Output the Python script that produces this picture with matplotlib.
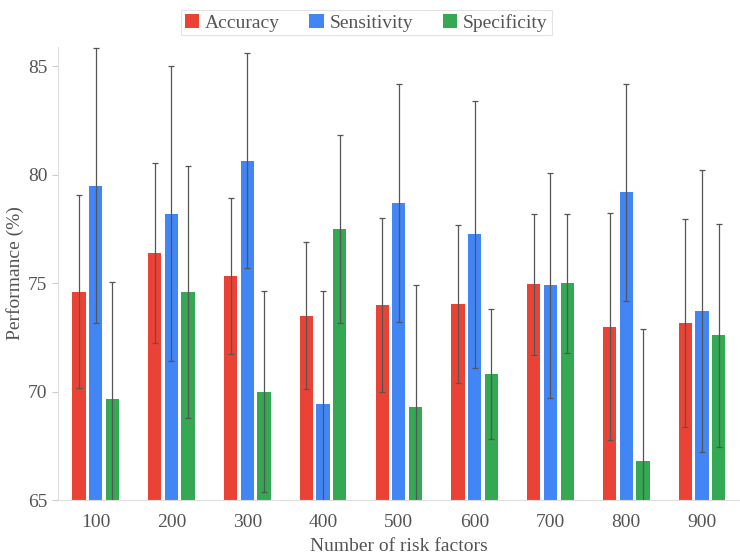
import numpy as np
import matplotlib.pyplot as plt

plt.rcParams['font.family'] = ['Liberation Serif', 'DejaVu Serif']

factors = ["100", "200", "300", "400", "500", "600", "700", "800", "900"]
accuracy = [74.6, 76.4, 75.35, 73.5, 74.0, 74.05, 74.95, 73.0, 73.15]
accuracy_err = [4.45, 4.15, 3.6, 3.4, 4.0, 3.65, 3.25, 5.25, 4.8]
sensitivity = [79.5, 78.2, 80.65, 69.45, 78.7, 77.25, 74.9, 79.2, 73.7]
sensitivity_err = [6.35, 6.8, 4.95, 5.2, 5.5, 6.15, 5.2, 5.0, 6.5]
specificity = [69.65, 74.6, 70.0, 77.5, 69.3, 70.8, 75.0, 66.8, 72.6]
specificity_err = [5.4, 5.8, 4.65, 4.35, 5.6, 3.0, 3.2, 6.1, 5.15]

series = [("Accuracy", accuracy, accuracy_err, "#EA4335"),
          ("Sensitivity", sensitivity, sensitivity_err, "#4285F4"),
          ("Specificity", specificity, specificity_err, "#34A853")]

fig = plt.figure(figsize=(7.4, 5.56), dpi=100)
ax = fig.add_axes([0.078, 0.1007, 0.922, 0.815])

x = np.arange(len(factors))
width = 0.175
step = 0.22
for i, (name, vals, errs, col) in enumerate(series):
    ax.bar(x + (i - 1) * step, vals, width, color=col, label=name,
           yerr=errs, error_kw=dict(ecolor="#555555", elinewidth=0.9,
                                    capsize=2.5, capthick=0.9))

ax.set_xlim(-0.5, len(factors) - 0.5)
ax.set_ylim(65, 85.9)
ax.set_yticks([65, 70, 75, 80, 85])
ax.set_xticks(x)
ax.set_xticklabels(factors)
ax.tick_params(axis='both', labelsize=14, colors="#cccccc")
ax.tick_params(axis='x', length=0, pad=10)
ax.tick_params(axis='y', length=4)
for lbl in ax.get_xticklabels() + ax.get_yticklabels():
    lbl.set_color("#555555")
for s in ["top", "right"]:
    ax.spines[s].set_visible(False)
for s in ["left", "bottom"]:
    ax.spines[s].set_color("#dddddd")

ax.set_xlabel("Number of risk factors", fontsize=14, color="#555555", labelpad=5)
ax.set_ylabel("Performance (%)", fontsize=14, color="#555555", labelpad=3)

leg = fig.legend(loc="upper center", bbox_to_anchor=(0.495, 1.0), ncol=3,
                 fontsize=14, frameon=True, fancybox=False, handlelength=0.75,
                 handleheight=0.75, handletextpad=0.3, columnspacing=1.5,
                 borderpad=0.2, labelcolor="#555555")
leg.get_frame().set_edgecolor("#dddddd")
leg.get_frame().set_linewidth(0.8)

fig.savefig("out.png", dpi=100)
